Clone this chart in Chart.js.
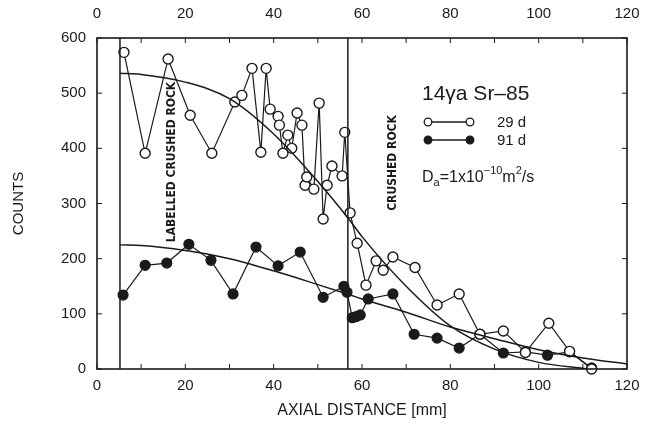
<!DOCTYPE html>
<html>
<head>
<meta charset="utf-8">
<script src="https://cdn.jsdelivr.net/npm/chart.js@4.4.0/dist/chart.umd.min.js"></script>
<style>
  html, body { margin: 0; background: #fff; }
  #wrap { width: 650px; height: 428px; }
</style>
</head>
<body>
<div id="wrap"><canvas id="chart"></canvas></div>
<script>
// 29 d measurements (open circles)
const dist29 = [6.1, 10.9, 16.1, 21.1, 26.0, 31.2, 32.8, 35.1, 37.1, 38.3, 39.2, 41.0, 41.3, 42.1, 43.2, 44.1, 45.3, 46.4, 47.1, 47.5, 49.1, 50.3, 51.2, 52.1, 53.2, 55.5, 56.1, 57.3, 58.9, 60.9, 63.2, 64.8, 67.0, 72.0, 77.0, 82.0, 86.7, 92.0, 97.0, 102.3, 107.0, 112.0];
const counts29 = [574, 391, 562, 460, 391, 484, 496, 545, 393, 545, 471, 458, 442, 391, 424, 400, 464, 442, 333, 348, 326, 482, 272, 333, 368, 350, 429, 283, 228, 152, 196, 179, 203, 184, 116, 136, 63, 69, 30, 83, 32, 0];

// 91 d measurements (filled circles)
const dist91 = [5.9, 10.9, 15.8, 20.8, 25.8, 30.8, 36.0, 41.0, 46.0, 51.2, 55.9, 56.6, 57.8, 58.7, 59.6, 61.4, 67.0, 71.8, 77.0, 82.0, 86.7, 92.0, 97.0, 102.0, 107.0, 112.0];
const counts91 = [134, 188, 192, 226, 197, 136, 221, 187, 212, 130, 150, 139, 93, 95, 98, 127, 136, 63, 56, 38, 63, 29, 31, 25, 31, 2];

// fitted curves
const fitDist29 = [5.2, 10, 20, 30, 40, 50, 57, 60, 70, 80, 90, 100, 111];
const fitCounts29 = [536, 534, 520, 490, 426, 340, 272, 240, 150, 78, 36, 12, 0];
const fitDist91 = [5.2, 10, 20, 30, 40, 50, 57, 60, 70, 80, 90, 100, 110, 120];
const fitCounts91 = [225, 224, 215, 200, 178, 153, 135, 127, 103, 76, 55, 35, 20, 9];

// zone boundaries
const boundaries = [5.2, 56.8];

const yTickValues = [0, 100, 200, 300, 400, 500, 600];
const xTickValues = [0, 10, 20, 30, 40, 50, 60, 70, 80, 90, 100, 110, 120];

const INK = '#1a1a1a';
const FONT = '"Liberation Sans", Arial, sans-serif';

const pts = (xs, ys) => xs.map((x, i) => ({ x: x, y: ys[i] }));

const boundarySets = boundaries.map(b => ({
  data: [{ x: b, y: 0 }, { x: b, y: 600 }],
  borderColor: INK, borderWidth: 1.5, pointRadius: 0
}));

const frame = {
  id: 'frame',
  afterDatasetsDraw(chart) {
    const { ctx, chartArea: a, scales } = chart;
    ctx.save();
    ctx.strokeStyle = INK;
    ctx.lineWidth = 1.6;
    ctx.strokeRect(a.left, a.top, a.right - a.left, a.bottom - a.top);
    ctx.lineWidth = 1;
    ctx.beginPath();
    for (const v of yTickValues) {
      const p = scales.y.getPixelForValue(v);
      ctx.moveTo(a.left, p); ctx.lineTo(a.left + 5, p);
      ctx.moveTo(a.right, p); ctx.lineTo(a.right - 5, p);
    }
    for (const v of xTickValues) {
      const p = scales.x.getPixelForValue(v);
      ctx.moveTo(p, a.bottom); ctx.lineTo(p, a.bottom - 5);
      ctx.moveTo(p, a.top); ctx.lineTo(p, a.top + 5);
    }
    ctx.stroke();

    ctx.fillStyle = INK;
    // rotated zone labels
    ctx.font = 'bold 12px "Liberation Sans Narrow", "DejaVu Sans Condensed", sans-serif';
    ctx.textAlign = 'center';
    ctx.textBaseline = 'middle';
    ctx.save();
    ctx.translate(172, 162);
    ctx.rotate(-Math.PI / 2);
    ctx.fillText('LABELLED CRUSHED ROCK', 0, 0, 165);
    ctx.restore();
    ctx.save();
    ctx.translate(393, 163);
    ctx.rotate(-Math.PI / 2);
    ctx.fillText('CRUSHED ROCK', 0, 0, 97);
    ctx.restore();

    // legend block
    ctx.textAlign = 'left';
    ctx.textBaseline = 'alphabetic';
    ctx.font = '21px ' + FONT;
    ctx.fillText('14γa Sr\u201385', 422, 100);

    ctx.font = '15px ' + FONT;
    const rows = [{ y: 122, fill: '#fff', label: '29 d' }, { y: 140, fill: INK, label: '91 d' }];
    for (const r of rows) {
      ctx.beginPath();
      ctx.moveTo(432, r.y); ctx.lineTo(466, r.y);
      ctx.lineWidth = 1.3; ctx.stroke();
      for (const cx of [428, 470]) {
        ctx.beginPath();
        ctx.arc(cx, r.y, 3.8, 0, Math.PI * 2);
        ctx.fillStyle = r.fill; ctx.fill();
        ctx.lineWidth = 1.3; ctx.stroke();
      }
      ctx.fillStyle = INK;
      ctx.fillText(r.label, 497, r.y + 5);
    }

    // D_a = 1x10^-10 m^2/s
    let x = 422;
    const put = (t, size, dy) => {
      ctx.font = size + 'px ' + FONT;
      ctx.fillText(t, x, 182 + dy);
      x += ctx.measureText(t).width;
    };
    put('D', 16, 0); put('a', 11, 4); put('=1x10', 16, 0);
    put('\u221210', 11, -8); put('m', 16, 0); put('2', 11, -8); put('/s', 16, 0);
    ctx.restore();
  }
};

new Chart(document.getElementById('chart'), {
  type: 'line',
  data: {
    datasets: [
      {
        data: pts(fitDist29, fitCounts29),
        borderColor: INK, borderWidth: 1.5, pointRadius: 0,
        cubicInterpolationMode: 'monotone'
      },
      {
        data: pts(fitDist91, fitCounts91),
        borderColor: INK, borderWidth: 1.5, pointRadius: 0,
        cubicInterpolationMode: 'monotone'
      },
      ...boundarySets,
      {
        label: '29 d',
        data: pts(dist29, counts29),
        borderColor: INK, borderWidth: 1.2,
        pointRadius: 5, pointBorderWidth: 1.4,
        pointBackgroundColor: '#fff', pointBorderColor: INK,
        clip: false
      },
      {
        label: '91 d',
        data: pts(dist91, counts91),
        borderColor: INK, borderWidth: 1.2,
        pointRadius: 5, pointBorderWidth: 1.2,
        pointBackgroundColor: INK, pointBorderColor: INK,
        clip: false
      }
    ]
  },
  options: {
    responsive: true,
    maintainAspectRatio: false,
    animation: false,
    layout: { padding: { left: 0, right: 23, top: 0, bottom: 0 } },
    plugins: { legend: { display: false }, tooltip: { enabled: false } },
    scales: {
      x: {
        type: 'linear', position: 'bottom', min: 0, max: 120,
        grid: { display: false }, border: { display: false },
        ticks: { stepSize: 20, color: INK, padding: 0, font: { family: FONT, size: 15 } },
        title: { display: true, text: 'AXIAL DISTANCE [mm]', color: INK, padding: { top: 2, bottom: 8 }, font: { family: FONT, size: 16 } },
        afterFit: s => { s.height = 59; }
      },
      x2: {
        type: 'linear', position: 'top', min: 0, max: 120,
        grid: { display: false }, border: { display: false },
        ticks: { stepSize: 20, color: INK, padding: 7, font: { family: FONT, size: 15 } },
        afterFit: s => { s.height = 38; }
      },
      y: {
        min: 0, max: 600,
        grid: { display: false }, border: { display: false },
        ticks: { stepSize: 100, color: INK, padding: 3, font: { family: FONT, size: 15 } },
        title: { display: true, text: 'COUNTS', color: INK, padding: { top: 10, bottom: 0 }, font: { family: FONT, size: 15 } },
        afterFit: s => { s.width = 97; }
      }
    }
  },
  plugins: [frame]
});
</script>
</body>
</html>
